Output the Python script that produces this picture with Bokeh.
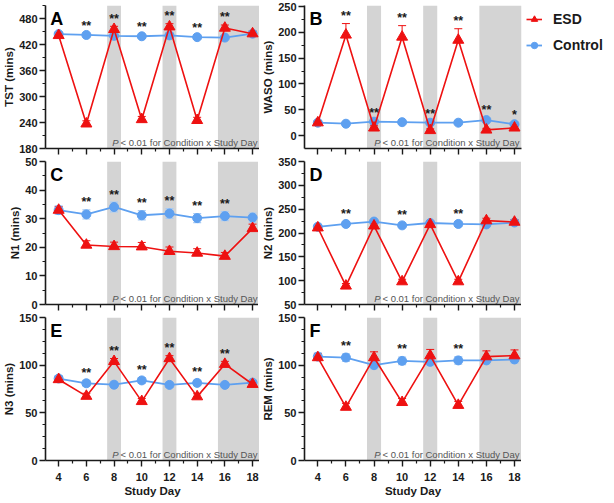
from bokeh.plotting import figure
from bokeh.layouts import row, column
from bokeh.models import (ColumnDataSource, FixedTicker, Range1d, BoxAnnotation, Label,
                          Whisker, TeeHead, Legend, LegendItem, CustomJSTickFormatter)
from bokeh.core.properties import value
from bokeh.embed import file_html
from bokeh.resources import INLINE

# ---------------- data ----------------
days = [4, 6, 8, 10, 12, 14, 16, 18]
x_ticks = [4, 6, 8, 10, 12, 14, 16, 18]
x_minor = [5, 7, 9, 11, 13, 15, 17]
band_left = [7.5, 11.5, 15.5]
band_right = [8.5, 12.5, 18.5]

tst_esd = [441, 237, 455, 247, 461, 245, 458, 445]
tst_esd_err = [6, 7, 7, 7, 7, 7, 7, 6]
tst_ctl = [444, 442, 440, 439, 441, 437, 436, 445]
tst_ctl_err = [4, 4, 4, 4, 4, 4, 4, 4]
tst_sig = ["", "**", "**", "**", "**", "**", "**", ""]
tst_range = [180, 510]
tst_ticks = [180, 240, 300, 360, 420, 480]
tst_minor = [210, 270, 330, 390, 450, 510]

waso_esd = [25, 195, 15, 191, 10, 185, 11, 15]
waso_esd_err = [4, 22, 4, 22, 3, 22, 3, 4]
waso_ctl = [25, 23, 27, 26, 25, 25, 30, 22]
waso_ctl_err = [3, 3, 3, 3, 3, 3, 4, 3]
waso_sig = ["", "**", "**", "**", "**", "**", "**", "*"]
waso_range = [-25, 252]
waso_ticks = [0, 50, 100, 150, 200, 250]
waso_minor = [25, 75, 125, 175, 225]

n1_esd = [33.0, 20.8, 20.3, 20.2, 18.6, 18.0, 16.9, 26.6]
n1_esd_err = [1.2, 1.5, 1.5, 1.5, 1.5, 1.5, 1.3, 1.5]
n1_ctl = [33.0, 31.5, 34.1, 31.2, 31.8, 30.2, 30.9, 30.4]
n1_ctl_err = [1.5, 1.6, 1.7, 1.6, 1.7, 1.6, 1.6, 1.6]
n1_sig = ["", "**", "**", "**", "**", "**", "**", ""]
n1_range = [0, 50]
n1_ticks = [0, 10, 20, 30, 40, 50]
n1_minor = [5, 15, 25, 35, 45]

n2_esd = [211, 89, 215, 98, 218, 98, 226, 223]
n2_esd_err = [5, 5, 5, 5, 5, 5, 5, 5]
n2_ctl = [213, 219, 224, 216, 221, 219, 218, 222]
n2_ctl_err = [5, 5, 5, 5, 5, 5, 5, 5]
n2_sig = ["", "**", "", "**", "", "**", "", ""]
n2_range = [50, 350]
n2_ticks = [50, 100, 150, 200, 250, 300, 350]
n2_minor = [75, 125, 175, 225, 275, 325]

n3_esd = [85, 67.5, 104, 62, 107, 67, 101, 80]
n3_esd_err = [3, 3, 3, 3, 3, 3, 3, 3]
n3_ctl = [86, 81, 79.5, 84, 79.3, 81.4, 79.3, 81.7]
n3_ctl_err = [3, 3, 3, 3, 3, 3, 3, 3]
n3_sig = ["", "**", "**", "**", "**", "**", "**", ""]
n3_range = [0, 150]
n3_ticks = [0, 50, 100, 150]
n3_minor = [12.5, 25, 37.5, 62.5, 75, 87.5, 112.5, 125, 137.5]

rem_esd = [108, 56, 108, 61, 110, 58, 109, 110]
rem_esd_err = [4, 4, 6, 4, 6.5, 4, 6, 6]
rem_ctl = [109, 108, 100, 104.5, 103.5, 105, 105, 106]
rem_ctl_err = [4, 4, 4, 4, 4, 4, 4, 4]
rem_sig = ["", "**", "", "**", "", "**", "", ""]
rem_range = [0, 150]
rem_ticks = [0, 50, 100, 150]
rem_minor = [12.5, 25, 37.5, 62.5, 75, 87.5, 112.5, 125, 137.5]

series_labels = ["ESD", "Control"]
p_text = "< 0.01 for Condition x Study Day"
x_label = "Study Day"

# ---------------- style ----------------
RED = "#ee1111"
BLUE = "#5ea0f0"
BLUE_ERR = "#a8cbf4"
GRAY = "#d4d4d4"
FONT = "Liberation Sans"
TXT = "#1a1a1a"
X_START, X_END = 3.05, 18.5
FRAME_H = 143


def make_panel(letter, ylabel, yr, yt, ym, esd, esd_err, ctl, ctl_err, sig,
               top_row=False, bottom_row=False, right_col=False, legend=False):
    p = figure(frame_width=217 if right_col else 214, frame_height=FRAME_H,
               x_range=Range1d(X_START, X_END), y_range=Range1d(yr[0], yr[1]),
               output_backend="svg", toolbar_location=None,
               min_border_left=45 if right_col else 44,
               min_border_right=88 if legend else 0,
               min_border_top=5 if top_row else 6,
               min_border_bottom=36 if bottom_row else 7)
    p.grid.visible = False
    p.outline_line_color = None
    p.background_fill_color = "white"
    p.border_fill_color = "white"

    for l, r in zip(band_left, band_right):
        p.add_layout(BoxAnnotation(left=l, right=r, fill_color=GRAY, fill_alpha=1.0,
                                   line_color=None, level="underlay"))

    # axes
    for ax in (p.xaxis[0], p.yaxis[0]):
        ax.axis_line_color = TXT
        ax.axis_line_width = 1.6
        ax.major_tick_line_color = TXT
        ax.minor_tick_line_color = TXT
        ax.major_tick_line_width = 1.4
        ax.minor_tick_line_width = 1.2
        ax.major_tick_in = 0
        ax.minor_tick_in = 0
        ax.major_tick_out = 6
        ax.minor_tick_out = 3
        ax.major_label_text_font = FONT
        ax.major_label_text_font_style = "bold"
        ax.major_label_text_font_size = "11px"
        ax.major_label_text_color = TXT
        ax.axis_label_text_font = FONT
        ax.axis_label_text_font_style = "bold"
        ax.axis_label_text_font_size = "11.5px"
        ax.axis_label_text_color = TXT
    p.yaxis.ticker = FixedTicker(ticks=yt, minor_ticks=ym)
    p.xaxis.ticker = FixedTicker(ticks=x_ticks, minor_ticks=x_minor)
    p.yaxis.axis_label = ylabel
    p.yaxis.major_label_standoff = 2
    p.yaxis.axis_label_standoff = 1
    if bottom_row:
        p.xaxis.axis_label = x_label
        p.xaxis.major_label_standoff = 6
        p.xaxis.axis_label_standoff = 1
    else:
        p.xaxis.formatter = CustomJSTickFormatter(code="return ''")
        p.xaxis.major_label_text_font_size = "1px"
        p.xaxis.major_label_standoff = 0

    # error bars
    ctl_src = ColumnDataSource(dict(x=days, up=[v + e for v, e in zip(ctl, ctl_err)],
                                    lo=[v - e for v, e in zip(ctl, ctl_err)]))
    p.add_layout(Whisker(source=ctl_src, base="x", upper="up", lower="lo",
                         line_color=BLUE_ERR, line_width=1.2,
                         upper_head=TeeHead(size=8, line_color=BLUE_ERR, line_width=1.2),
                         lower_head=TeeHead(size=8, line_color=BLUE_ERR, line_width=1.2)))
    esd_src = ColumnDataSource(dict(x=days, up=[v + e for v, e in zip(esd, esd_err)], lo=esd))
    p.add_layout(Whisker(source=esd_src, base="x", upper="up", lower="lo",
                         line_color=RED, line_width=1.0,
                         upper_head=TeeHead(size=8, line_color=RED, line_width=1.0),
                         lower_head=None))

    bl = p.line(days, ctl, line_color=BLUE, line_width=1.8)
    bs = p.scatter(days, ctl, marker="circle", size=9, fill_color=BLUE, line_color=BLUE)
    rl = p.line(days, esd, line_color=RED, line_width=1.6)
    rs = p.scatter(days, esd, marker="triangle", size=11, fill_color=RED, line_color=RED)

    # significance markers
    span = yr[1] - yr[0]
    sig_y = [max(a + ae, c + ce) + 0.004 * span
             for a, ae, c, ce in zip(esd, esd_err, ctl, ctl_err)]
    p.text(x=days, y=sig_y, text=sig, text_align="center", text_baseline="bottom",
           text_font=value(FONT), text_font_style="bold", text_font_size="12.5px",
           text_color=TXT)

    # panel letter
    p.add_layout(Label(x=X_START + 0.35, y=yr[1] - 0.025 * span, text=letter,
                       text_font=FONT, text_font_style="bold", text_font_size="18px",
                       text_color="black", text_align="left", text_baseline="top"))
    # p-value note
    py = yr[0] + 0.045 * span
    p.add_layout(Label(x=X_END, y=py, x_offset=-2, text=p_text, text_font=FONT,
                       text_font_size="9.5px", text_color="#555555",
                       text_align="right", text_baseline="alphabetic"))
    p.add_layout(Label(x=X_END, y=py, x_offset=-141, text="P", text_font=FONT,
                       text_font_style="italic", text_font_size="9.5px", text_color="#555555",
                       text_align="right", text_baseline="alphabetic"))

    if legend:
        lg = Legend(items=[LegendItem(label=series_labels[0], renderers=[rl, rs]),
                           LegendItem(label=series_labels[1], renderers=[bl, bs])],
                    location="top_left", margin=5, padding=1, spacing=8,
                    glyph_width=16, glyph_height=18, label_standoff=11,
                    label_text_font=FONT, label_text_font_style="bold",
                    label_text_font_size="14px", label_text_color=TXT,
                    border_line_color=None, background_fill_alpha=0)
        p.add_layout(lg, "right")
    return p


pA = make_panel("A", "TST (mins)", tst_range, tst_ticks, tst_minor,
                tst_esd, tst_esd_err, tst_ctl, tst_ctl_err, tst_sig, top_row=True)
pB = make_panel("B", "WASO (mins)", waso_range, waso_ticks, waso_minor,
                waso_esd, waso_esd_err, waso_ctl, waso_ctl_err, waso_sig,
                top_row=True, right_col=True, legend=True)
pC = make_panel("C", "N1 (mins)", n1_range, n1_ticks, n1_minor,
                n1_esd, n1_esd_err, n1_ctl, n1_ctl_err, n1_sig)
pD = make_panel("D", "N2 (mins)", n2_range, n2_ticks, n2_minor,
                n2_esd, n2_esd_err, n2_ctl, n2_ctl_err, n2_sig, right_col=True)
pE = make_panel("E", "N3 (mins)", n3_range, n3_ticks, n3_minor,
                n3_esd, n3_esd_err, n3_ctl, n3_ctl_err, n3_sig, bottom_row=True)
pF = make_panel("F", "REM (mins)", rem_range, rem_ticks, rem_minor,
                rem_esd, rem_esd_err, rem_ctl, rem_ctl_err, rem_sig,
                bottom_row=True, right_col=True)

layout = row(column(pA, pC, pE), column(pB, pD, pF))

with open("out.html", "w") as f:
    f.write(file_html(layout, INLINE))
